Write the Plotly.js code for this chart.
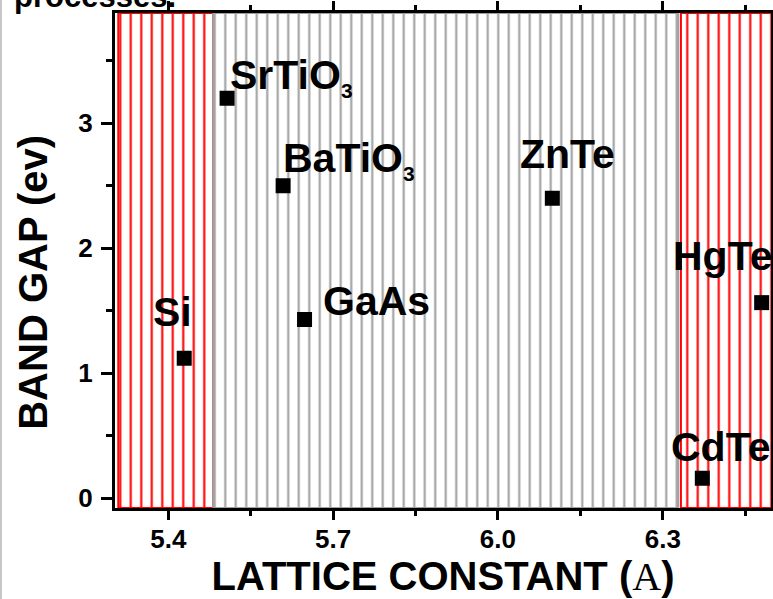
<!DOCTYPE html>
<html>
<head>
<meta charset="utf-8">
<script src="https://cdn.plot.ly/plotly-3.0.1.min.js"></script>
<style>html,body{margin:0;padding:0;background:#fff;}</style>
</head>
<body>
<div id="chart" style="width:773px;height:599px;"></div>
<script>
// ---- data ----
const materials = ['Si', 'SrTiO3', 'BaTiO3', 'GaAs', 'ZnTe', 'HgTe', 'CdTe'];
const latticeConstant = [5.429, 5.507, 5.609, 5.648, 6.099, 6.480, 6.372];
const bandGap = [1.12, 3.20, 2.50, 1.43, 2.40, 1.565, 0.16];

// shaded regions along the lattice-constant axis
const regionStart = [5.309, 5.482, 6.333];
const regionEnd = [5.482, 6.328, 6.50];

const xTicks = [5.4, 5.7, 6.0, 6.3];
const yTicks = [0, 1, 2, 3];

// ---- styling / layout (not data) ----
const X_RANGE = [5.303, 6.497];
const Y_RANGE = [-0.078, 3.882];
const regionColors = ['#ff0000', '#a0a0a0', '#ff0000'];
const FONT = 'Arial, "Liberation Sans", sans-serif';
// label placement: [xshift px, yshift px, xanchor]
const labelPlacement = [
  [-11.7, 46.6, 'center'],
  [3, 21, 'left'],
  [0, 25.6, 'left'],
  [18.5, 18.3, 'left'],
  [15.3, 44.1, 'center'],
  [-39.1, 46.9, 'center'],
  [18.3, 30.8, 'center']
];

function fmtLabel(name) {
  return name.replace(/(\d)$/, '<sub><span style="font-size:21px">$1</span></sub>');
}

const traces = [];
regionStart.forEach((s, i) => {
  const e = regionEnd[i];
  const c = regionColors[i];
  traces.push({
    type: 'bar',
    x: [(s + e) / 2],
    width: [e - s],
    base: [Y_RANGE[0]],
    y: [Y_RANGE[1] - Y_RANGE[0]],
    marker: {
      color: 'white',
      line: {color: c, width: 2},
      pattern: {shape: '|', fgcolor: c, bgcolor: 'white', size: 10.5, solidity: 0.2, fillmode: 'replace'}
    },
    hoverinfo: 'skip',
    showlegend: false
  });
});

traces.push({
  type: 'scatter',
  mode: 'markers',
  x: latticeConstant,
  y: bandGap,
  marker: {symbol: 'square', size: 15, color: 'black', line: {width: 0}},
  text: materials,
  hoverinfo: 'text',
  showlegend: false,
  cliponaxis: false
});

const annotations = materials.map((m, i) => ({
  x: latticeConstant[i], y: bandGap[i], xref: 'x', yref: 'y',
  text: fmtLabel(m), showarrow: false,
  xanchor: labelPlacement[i][2], yanchor: 'middle',
  xshift: labelPlacement[i][0], yshift: labelPlacement[i][1],
  borderpad: 0, borderwidth: 0,
  font: {family: FONT, size: 41, color: 'black', weight: 700}
}));

annotations.push({
  xref: 'paper', yref: 'paper', x: -0.125, y: 0.455,
  xanchor: 'center', yanchor: 'middle', textangle: -90, showarrow: false,
  text: 'BAND GAP (ev)', borderpad: 0,
  font: {family: FONT, size: 40, color: 'black', weight: 700}
});
annotations.push({
  xref: 'paper', yref: 'paper', x: -0.1555, y: 0.9968,
  xanchor: 'left', yanchor: 'bottom', showarrow: false,
  text: 'processes.', borderpad: 0,
  font: {family: FONT, size: 31, color: 'black', weight: 700}
});

const axisCommon = {
  showline: true, linewidth: 3, linecolor: 'black', mirror: 'ticks',
  ticks: 'outside', tickwidth: 3, tickcolor: 'black',
  showgrid: false, zeroline: false,
  tickfont: {family: FONT, size: 26, color: 'black', weight: 700}
};

const layout = {
  width: 773, height: 599,
  margin: {l: 115, r: 2, t: 13, b: 91, pad: 0},
  paper_bgcolor: 'white', plot_bgcolor: 'white',
  barmode: 'overlay',
  xaxis: Object.assign({}, axisCommon, {
    range: X_RANGE, tickvals: xTicks, ticktext: xTicks.map(v => v.toFixed(1)),
    ticklen: 9, ticklabelstandoff: -3,
    minor: {dtick: 0.15, tick0: 5.4, ticks: 'outside', ticklen: 5, tickwidth: 3, tickcolor: 'black'},
    title: {
      text: 'LATTICE CONSTANT (<span style="font-family:\'Liberation Serif\',\'Times New Roman\',serif;font-weight:normal">A</span>)',
      font: {family: FONT, size: 40, color: 'black', weight: 700},
      standoff: 10
    }
  }),
  yaxis: Object.assign({}, axisCommon, {
    range: Y_RANGE, tickvals: yTicks, ticklen: 11, ticklabelstandoff: 3,
    minor: {dtick: 0.5, tick0: 0, ticks: 'outside', ticklen: 6, tickwidth: 3, tickcolor: 'black'}
  }),
  annotations: annotations,
  shapes: [{
    type: 'line', xref: 'paper', yref: 'paper',
    x0: -0.1738, x1: -0.1738, y0: -0.2, y1: 1.03,
    line: {color: '#b4b4b4', width: 1.5}
  }]
};

Plotly.newPlot('chart', traces, layout, {displayModeBar: false, staticPlot: true});
</script>
</body>
</html>
